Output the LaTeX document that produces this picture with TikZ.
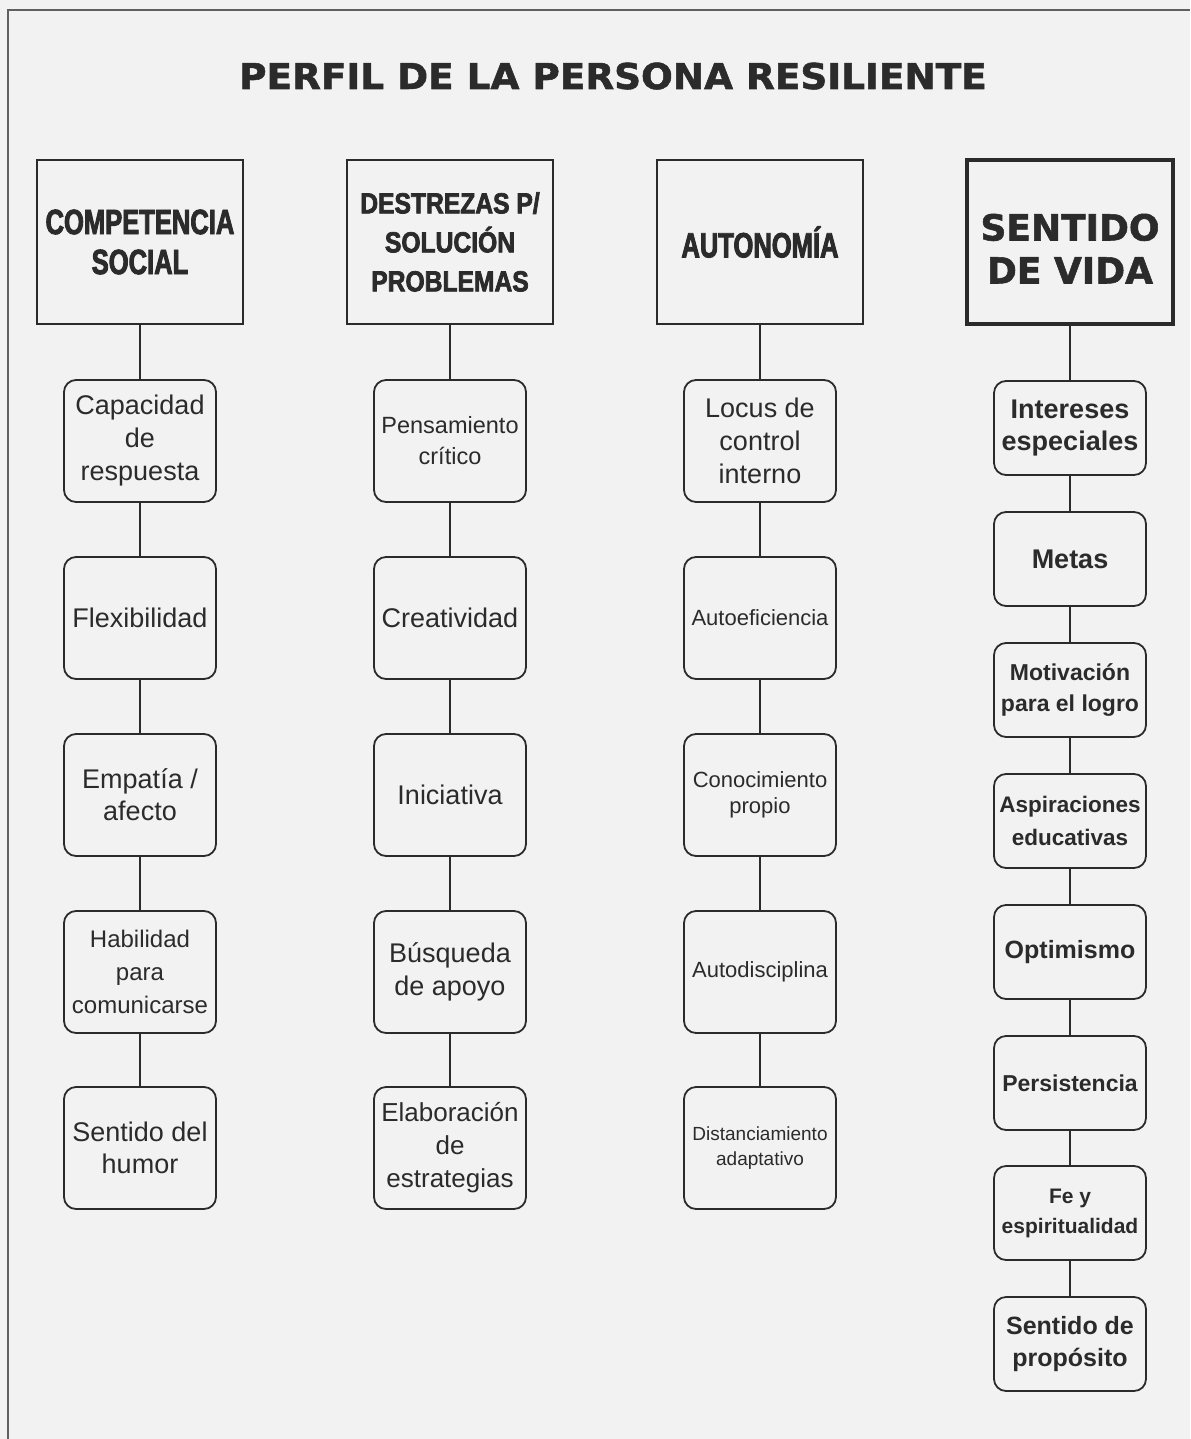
\documentclass[tikz,border=0pt]{standalone}
\usepackage{fontspec}
\setmainfont{Liberation Sans}
\newfontfamily\headfont{Liberation Sans}[FakeStretch=0.73,FakeBold=2.5]
\newfontfamily\headfontb{Liberation Sans}[FakeStretch=0.85,FakeBold=2.5]
\newfontfamily\titlefont{DejaVu Sans}[FakeStretch=1.05,FakeBold=1.5]
\newfontfamily\vidafont{DejaVu Sans}[FakeBold=1.5]
\newcommand\sz[2]{\fontsize{#1}{#2}\selectfont}
\definecolor{ink}{HTML}{2B2B2B}
\definecolor{paper}{HTML}{F2F2F2}
\tikzset{
  head/.style={draw=ink, line width=1pt, minimum width=103pt, minimum height=82pt,
    inner sep=0pt, align=center, text=ink},
  item/.style={draw=ink, line width=0.9pt, rounded corners=6pt, minimum width=76pt,
    minimum height=61pt, inner sep=0pt, align=center, text=ink},
  itemb/.style={item, minimum height=47pt},
  link/.style={draw=ink, line width=0.8pt},
}
\begin{document}
\begin{tikzpicture}[x=0.5pt,y=-0.5pt]
\useasboundingbox (0,0) rectangle (1190,1439);
\fill[paper] (0,0) rectangle (1190,1439);
\draw[ink!75, line width=1pt] (8,1439) -- (8,10) -- (1190,10);
\node[anchor=base, text=ink, font=\titlefont\bfseries\sz{17.8}{20}] (title) at (613,89)
  {PERFIL DE LA PERSONA RESILIENTE};
% cabeceras
\node[head, font=\headfont\bfseries\sz{17.5}{20}] (comp) at (140,242) {COMPETENCIA\\SOCIAL};
\node[head, font=\headfontb\bfseries\sz{14.5}{19.5}] (dest) at (450,242) {DESTREZAS P/\\SOLUCIÓN\\PROBLEMAS};
\node[head, font=\headfont\bfseries\sz{17.5}{20}] (auto) at (760,242) {AUTONOMÍA};
\node[head, line width=2pt, font=\vidafont\bfseries\sz{18}{21.5}] (sent) at (1070,242) {\rule{0pt}{20pt}SENTIDO\\DE VIDA};
% competencia social
\node[item, font=\sz{13.5}{16.5}] (cs1) at (140,441) {Capacidad\\de\\respuesta};
\node[item, font=\sz{13.5}{16.5}] (cs2) at (140,618) {Flexibilidad};
\node[item, font=\sz{13.5}{16}] (cs3) at (140,795) {Empatía /\\afecto};
\node[item, font=\sz{12}{16.5}] (cs4) at (140,972) {Habilidad\\para\\comunicarse};
\node[item, font=\sz{13.5}{16}] (cs5) at (140,1148) {Sentido del\\humor};
% destrezas
\node[item, font=\sz{11.75}{15.5}] (dp1) at (450,441) {Pensamiento\\crítico};
\node[item, font=\sz{13.5}{16.5}] (dp2) at (450,618) {Creatividad};
\node[item, font=\sz{13.5}{16.5}] (dp3) at (450,795) {Iniciativa};
\node[item, font=\sz{13.5}{16.5}] (dp4) at (450,972) {Búsqueda\\de apoyo};
\node[item, font=\sz{13}{16.5}] (dp5) at (450,1148) {Elaboración\\de\\estrategias};
% autonomia
\node[item, font=\sz{13.5}{16.5}] (au1) at (760,441) {Locus de\\control\\interno};
\node[item, font=\sz{11}{13}] (au2) at (760,618) {Autoeficiencia};
\node[item, font=\sz{11}{13}] (au3) at (760,795) {Conocimiento\\propio};
\node[item, font=\sz{11}{13}] (au4) at (760,972) {Autodisciplina};
\node[item, font=\sz{9.5}{12.5}] (au5) at (760,1148) {Distanciamiento\\adaptativo};
% sentido de vida
\node[itemb, font=\bfseries\sz{13.5}{16}] (sv1) at (1070,428) {Intereses\\especiales};
\node[itemb, font=\bfseries\sz{13.5}{16}] (sv2) at (1070,559) {Metas};
\node[itemb, font=\bfseries\sz{11.5}{15.5}] (sv3) at (1070,690) {Motivación\\para el logro};
\node[itemb, font=\bfseries\sz{11.25}{16.5}] (sv4) at (1070,821) {Aspiraciones\\educativas};
\node[itemb, font=\bfseries\sz{12.5}{16}] (sv5) at (1070,952) {Optimismo};
\node[itemb, font=\bfseries\sz{11.5}{16}] (sv6) at (1070,1083) {Persistencia};
\node[itemb, font=\bfseries\sz{10.5}{15}] (sv7) at (1070,1213) {Fe y\\espiritualidad};
\node[itemb, font=\bfseries\sz{12.5}{16}] (sv8) at (1070,1344) {Sentido de\\propósito};
\foreach \a/\b in {comp/cs1,cs1/cs2,cs2/cs3,cs3/cs4,cs4/cs5,
  dest/dp1,dp1/dp2,dp2/dp3,dp3/dp4,dp4/dp5,
  auto/au1,au1/au2,au2/au3,au3/au4,au4/au5,
  sent/sv1,sv1/sv2,sv2/sv3,sv3/sv4,sv4/sv5,sv5/sv6,sv6/sv7,sv7/sv8}
  \draw[link] (\a) -- (\b);
\end{tikzpicture}
\end{document}
